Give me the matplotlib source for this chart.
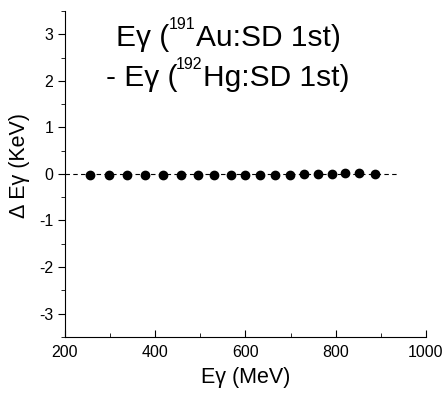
import matplotlib
matplotlib.use("Agg")
import matplotlib.pyplot as plt
from matplotlib.ticker import MultipleLocator

plt.rcParams['font.family'] = ['Liberation Sans', 'DejaVu Sans']
plt.rcParams['axes.unicode_minus'] = False

# gamma energies (keV) and energy difference (keV)
e_gamma = [255, 297, 337, 378, 418, 457, 494, 531, 568, 600,
           633, 666, 698, 729, 760, 791, 821, 852, 888]
delta_e = [-0.02, -0.02, -0.02, -0.02, -0.02, -0.02, -0.02, -0.02, -0.02, -0.02,
           -0.02, -0.02, -0.02, -0.01, -0.01, -0.01, 0.01, 0.01, -0.01]

zero_line_x = [200, 940]
zero_line_y = [0, 0]

fig = plt.figure(figsize=(4.45, 3.99), dpi=100)
ax = fig.add_axes([0.146, 0.156, 0.811, 0.816])

ax.plot(zero_line_x, zero_line_y, color='black', linestyle=(0, (4, 3)), linewidth=0.8)
ax.plot(e_gamma, delta_e, 'o', color='black', markersize=6)

ax.set_xlim(200, 1000)
ax.set_ylim(-3.5, 3.5)
ax.xaxis.set_major_locator(MultipleLocator(200))
ax.xaxis.set_minor_locator(MultipleLocator(100))
ax.yaxis.set_major_locator(MultipleLocator(1))
ax.yaxis.set_minor_locator(MultipleLocator(0.5))

ax.spines['top'].set_visible(False)
ax.spines['right'].set_visible(False)
ax.tick_params(axis='x', which='both', direction='in', labelsize=11.5, pad=6)
ax.tick_params(axis='y', which='both', direction='out', labelsize=11.5)
ax.tick_params(which='major', length=5)
ax.tick_params(which='minor', length=3)

ax.set_xlabel("Eγ (MeV)", fontsize=15.5, labelpad=5)
ax.set_ylabel("Δ Eγ (KeV)", fontsize=15.5)
ax.yaxis.set_label_coords(-0.097, 0.527)


# title-like annotation, built piece by piece so the superscript sits high
def label_line(x, y, before, sup, after):
    t1 = ax.text(x, y, before, fontsize=21.5, va='baseline')
    t2 = ax.annotate(sup, xy=(1, y), xycoords=(t1, 'data'), xytext=(-1, 12),
                     textcoords='offset points', fontsize=11.5, va='baseline')
    ax.annotate(after, xy=(1, y), xycoords=(t2, 'data'), xytext=(0.5, 0),
                textcoords='offset points', fontsize=21.5, va='baseline')


label_line(314, 2.75, "Eγ (", "191", "Au:SD 1st)")
label_line(291, 1.895, "- Eγ (", "192", "Hg:SD 1st)")

fig.savefig("out.png", dpi=100)
